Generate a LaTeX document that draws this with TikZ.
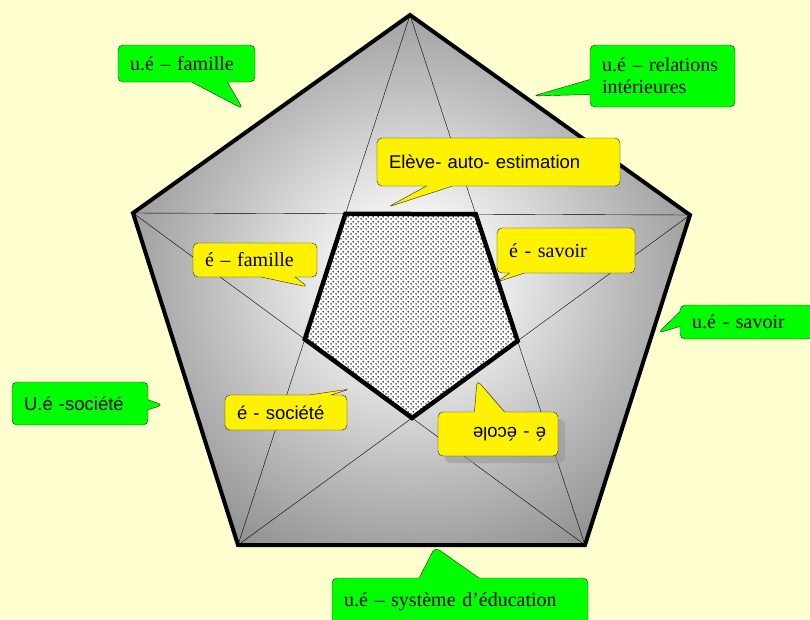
\documentclass[tikz,border=0pt]{standalone}
\usepackage{fontspec}
\usetikzlibrary{shapes.callouts,patterns,shadows}
\newfontfamily\bubbleserif{Liberation Serif}
\newfontfamily\bubblesans{Liberation Sans}
\definecolor{paper}{RGB}{255,255,208}
\colorlet{outercol}{green}
\colorlet{innercol}{yellow}
\colorlet{edgecol}{black}
\pgfdeclareradialshading{pentshade}{\pgfpoint{0bp}{0bp}}{%
  color(0bp)=(white); color(6bp)=(white!96!black); color(18bp)=(black!25);
  color(29bp)=(black!43); color(39bp)=(black!55); color(48bp)=(black!64);
  color(75bp)=(black!66)}
\pgfdeclarepatternformonly{bigdots}{\pgfpointorigin}{\pgfpoint{5pt}{5pt}}%
  {\pgfpoint{5pt}{5pt}}{%
  \pgfpathcircle{\pgfpoint{1.25pt}{1.25pt}}{0.9pt}
  \pgfpathcircle{\pgfpoint{3.75pt}{3.75pt}}{0.9pt}
  \pgfusepath{fill}}
\tikzset{
  bubble/.style={rectangle callout, draw=black!85, thin, rounded corners=5pt,
    inner xsep=12pt, inner ysep=0pt, align=left, text=black,
    callout pointer width=28pt},
  outerbubble/.style={bubble, fill=outercol,
    font=\bubbleserif\fontsize{20}{22}\selectfont},
  innerserif/.style={bubble, fill=innercol,
    font=\bubbleserif\fontsize{20}{22}\selectfont},
  innersans/.style={bubble, fill=innercol,
    font=\bubblesans\fontsize{18.5}{21}\selectfont},
}

\begin{document}
\begin{tikzpicture}[x=1pt, y=-1pt]

  % Page and background.
  \useasboundingbox (0,0) rectangle (810,619);
  \fill[paper] (0,0) rectangle (810,619);

  % Outer pentagon corners.
  \coordinate (T)  at (410,15);
  \coordinate (R)  at (690,215);
  \coordinate (BR) at (585,545);
  \coordinate (BL) at (238,545);
  \coordinate (L)  at (133,213);

  % Inner pentagon = crossings of the star.
  \coordinate (itl) at (intersection of T--BL and L--R);
  \coordinate (itr) at (intersection of T--BR and L--R);
  \coordinate (ir)  at (intersection of T--BR and R--BL);
  \coordinate (ib)  at (intersection of L--BR and R--BL);
  \coordinate (il)  at (intersection of T--BL and L--BR);

  % Shaded pentagon with the star.
  \shade[shading=pentshade] (T) -- (R) -- (BR) -- (BL) -- (L) -- cycle;
  \draw[edgecol, thin] (T) -- (BL) (T) -- (BR) (L) -- (R)
    (L) -- (BR) (R) -- (BL);
  \draw[edgecol, line width=4pt] (T) -- (R) -- (BR) -- (BL) -- (L) -- cycle;

  % Dotted inner pentagon.
  \fill[white] (itl) -- (itr) -- (ir) -- (ib) -- (il) -- cycle;
  \fill[pattern=bigdots] (itl) -- (itr) -- (ir) -- (ib) -- (il) -- cycle;
  \draw[edgecol, line width=4.5pt] (itl) -- (itr) -- (ir) -- (ib) -- (il) -- cycle;

  % Pointer tips.
  \coordinate (famtip)  at (243,109);
  \coordinate (reltip)  at (533,96);
  \coordinate (savtip)  at (658,333);
  \coordinate (soctip)  at (163,405);
  \coordinate (systip)  at (435,547);
  \coordinate (autotip) at (388,207);
  \coordinate (efamtip) at (308,287);
  \coordinate (esavtip) at (497,282);
  \coordinate (esoctip) at (350,389);
  \coordinate (ecoltip) at (477,380);

  % Outer bubbles (green).
  \node[outerbubble, text width=113pt, minimum height=37pt,
    callout absolute pointer=(famtip), callout pointer width=36pt]
    (uefam) at (186.5,63.5) {u.é – famille};
  \node[outerbubble, text width=121pt, minimum height=62pt,
    callout absolute pointer=(reltip), callout pointer width=15pt]
    (uerel) at (662.5,76) {u.é – relations\\intérieures};
  \node[outerbubble, text width=108pt, minimum height=34pt,
    callout absolute pointer=(savtip), callout pointer width=15pt]
    (uesav) at (746,322) {u.é - savoir};
  \node[outerbubble, font=\bubblesans\fontsize{18.5}{21}\selectfont,
    text width=112pt, minimum height=43pt,
    callout absolute pointer=(soctip), callout pointer width=10pt]
    (uesoc) at (80,403.5) {U.é -société};
  \node[outerbubble, text width=232pt, minimum height=48pt,
    callout absolute pointer=(systip), callout pointer width=60pt]
    (uesys) at (460,602) {u.é – système d’éducation};

  % Inner bubbles (yellow).
  \node[innersans, text width=219pt, minimum height=48pt,
    callout absolute pointer=(autotip), callout pointer width=26pt]
    (auto) at (498.5,162) {Elève- auto- estimation};
  \node[innerserif, text width=100pt, minimum height=34pt,
    callout absolute pointer=(efamtip), callout pointer width=34pt]
    (efam) at (255,260) {é – famille};
  \node[innerserif, text width=114pt, minimum height=45pt,
    callout absolute pointer=(esavtip), callout pointer width=15pt]
    (esav) at (566,250.5) {é - savoir};
  \node[innersans, text width=98pt, minimum height=35pt,
    callout absolute pointer=(esoctip), callout pointer width=22pt]
    (esoc) at (286,412.5) {é - société};
  \node[innersans, align=right, text width=96pt, minimum height=44pt,
    callout absolute pointer=(ecoltip), callout pointer width=30pt,
    drop shadow={shadow xshift=7pt, shadow yshift=-7pt, fill=black!40, opacity=.6}]
    (ecol) at (498,434) {\rotatebox{180}{é - école}};

\end{tikzpicture}
\end{document}
